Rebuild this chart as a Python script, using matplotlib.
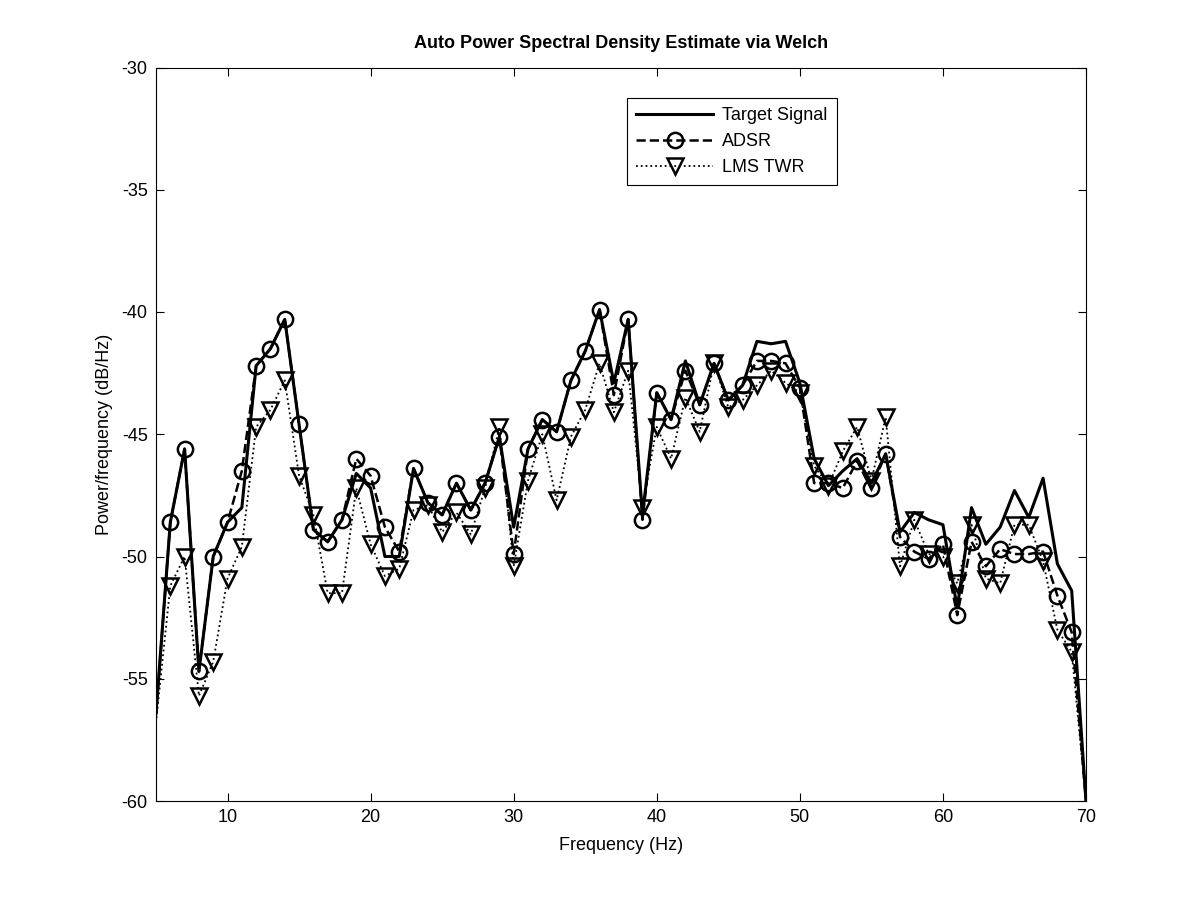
import matplotlib.pyplot as plt
import numpy as np

plt.rcParams['font.family'] = ['Liberation Sans', 'DejaVu Sans']
plt.rcParams['axes.unicode_minus'] = False

freq = np.arange(5, 71)

# Target signal PSD (dB/Hz)
target = [-56.4, -48.6, -45.6, -54.7, -50.0, -48.6, -48.0, -42.2, -41.5, -40.3,
          -44.6, -48.9, -49.4, -48.5, -46.6, -47.2, -50.0, -50.0, -46.4, -47.8,
          -48.3, -47.0, -48.1, -47.0, -45.1, -48.8, -45.6, -44.4, -44.9, -42.8,
          -41.6, -39.9, -42.9, -40.3, -48.3, -43.3, -44.4, -42.0, -43.8, -42.1,
          -43.6, -43.0, -41.2, -41.3, -41.2, -42.9, -46.0, -47.1, -46.5, -46.0,
          -47.0, -45.8, -49.0, -48.2, -48.5, -48.7, -52.1, -48.0, -49.5, -48.8,
          -47.3, -48.4, -46.8, -50.3, -51.4, -60.0]

# ADSR estimate
adsr = [-56.5, -48.6, -45.6, -54.7, -50.0, -48.6, -46.5, -42.2, -41.5, -40.3,
        -44.6, -48.9, -49.4, -48.5, -46.0, -46.7, -48.8, -49.8, -46.4, -47.8,
        -48.3, -47.0, -48.1, -47.0, -45.1, -49.9, -45.6, -44.4, -44.9, -42.8,
        -41.6, -39.9, -43.4, -40.3, -48.5, -43.3, -44.4, -42.4, -43.8, -42.1,
        -43.6, -43.0, -42.0, -42.0, -42.1, -43.1, -47.0, -47.0, -47.2, -46.1,
        -47.2, -45.8, -49.2, -49.8, -50.1, -49.5, -52.4, -49.4, -50.4, -49.7,
        -49.9, -49.9, -49.8, -51.6, -53.1, -60.0]

# LMS TWR estimate
lms = [-56.8, -51.2, -50.0, -55.7, -54.3, -50.9, -49.6, -44.7, -44.0, -42.8,
       -46.7, -48.3, -51.5, -51.5, -47.2, -49.5, -50.8, -50.5, -48.1, -47.9,
       -49.0, -48.2, -49.1, -47.2, -44.7, -50.4, -46.9, -45.0, -47.7, -45.1,
       -44.0, -42.1, -44.1, -42.4, -48.0, -44.7, -46.0, -43.5, -44.9, -42.1,
       -43.9, -43.6, -43.0, -42.4, -42.9, -43.3, -46.3, -47.1, -45.7, -44.7,
       -46.9, -44.3, -50.4, -48.5, -49.9, -50.0, -51.1, -48.7, -50.9, -51.1,
       -48.7, -48.7, -50.2, -53.0, -53.9, -60.0]

# markers only on the inner points (edge points sit on the axes border)
inner = slice(1, len(freq) - 1)

fig = plt.figure(figsize=(12, 9), dpi=100)
ax = fig.add_axes([0.13, 0.11, 0.775, 0.815])

ax.plot(freq, target, 'k-', lw=2.2, label='Target Signal')
ax.plot(freq, adsr, 'k--', lw=1.8, marker='o', ms=11, mfc='none', mew=1.8,
        markevery=inner, label='ADSR')
ax.plot(freq, lms, 'k:', lw=1.3, marker='v', ms=11, mfc='none', mew=1.8,
        markevery=inner, label='LMS TWR')

ax.set_xlim(5, 70)
ax.set_ylim(-60, -30)
ax.set_xticks([10, 20, 30, 40, 50, 60, 70])
ax.set_yticks([-60, -55, -50, -45, -40, -35, -30])
ax.tick_params(direction='in', top=True, right=True, labelsize=13, length=6,
               pad=6)
for s in ax.spines.values():
    s.set_linewidth(0.8)

ax.set_title('Auto Power Spectral Density Estimate via Welch',
             fontsize=13, fontweight='bold', pad=14)
ax.set_xlabel('Frequency (Hz)', fontsize=13, labelpad=8)
ax.set_ylabel('Power/frequency (dB/Hz)', fontsize=13, labelpad=6)

leg = ax.legend(loc='upper right', bbox_to_anchor=(0.732, 0.958), fontsize=13,
                frameon=True, fancybox=False, edgecolor='k', framealpha=1,
                handlelength=4.3, handletextpad=0.5, borderpad=0.5,
                labelspacing=0.5, borderaxespad=0)
leg.get_frame().set_linewidth(0.8)

fig.savefig('out.png', dpi=100)
